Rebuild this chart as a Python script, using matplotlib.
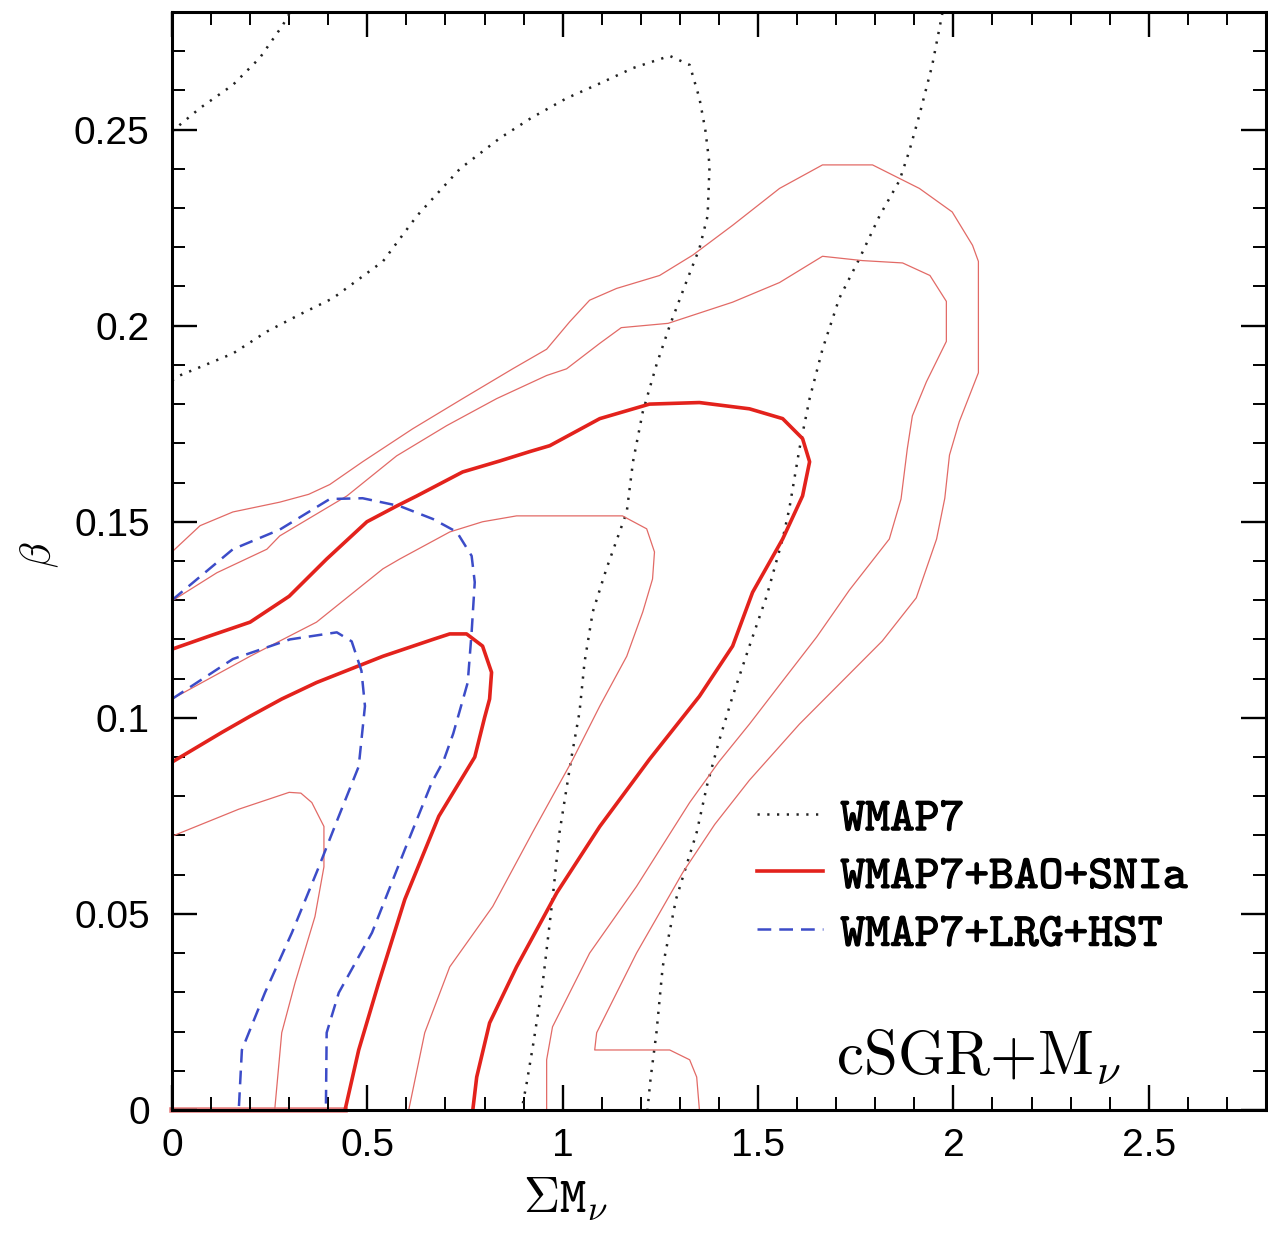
import matplotlib
matplotlib.use("Agg")
import matplotlib.pyplot as plt
import matplotlib.patheffects as pe
from matplotlib.lines import Line2D
from matplotlib.ticker import MultipleLocator, FuncFormatter

plt.rcParams["mathtext.fontset"] = "cm"

# WMAP7 alone (dotted)
wmap7_corner_x = [0.0, 0.020, 0.072, 0.156, 0.225, 0.284, 0.302]
wmap7_corner_y = [0.2495, 0.2512, 0.2555, 0.2614, 0.2683, 0.2767, 0.2798]

wmap7_inner_x = [0.0, 0.02, 0.156, 0.243, 0.33, 0.412, 0.54, 0.627, 0.737, 0.839, 0.92,
                 1.01, 1.10, 1.18, 1.274, 1.325, 1.35, 1.365, 1.376, 1.371, 1.35, 1.317,
                 1.274, 1.24, 1.205, 1.18, 1.164, 1.112, 1.077, 1.056, 1.043, 1.023,
                 0.992, 0.974, 0.949, 0.925, 0.908, 0.895]
wmap7_inner_y = [0.186, 0.1873, 0.1929, 0.1985, 0.203, 0.207, 0.2164, 0.228, 0.240, 0.2478,
                 0.253, 0.258, 0.262, 0.2657, 0.2688, 0.2665, 0.258, 0.250, 0.241, 0.228,
                 0.2197, 0.2113, 0.200, 0.190, 0.178, 0.1653, 0.1525, 0.138, 0.127, 0.1142,
                 0.1014, 0.0902, 0.0708, 0.0537, 0.0324, 0.017, 0.0069, 0.0]

wmap7_outer_x = [1.972, 1.946, 1.913, 1.887, 1.862, 1.811, 1.76, 1.708, 1.665, 1.632, 1.606,
                 1.58, 1.563, 1.522, 1.478, 1.435, 1.40, 1.37, 1.343, 1.29, 1.256, 1.24,
                 1.225, 1.217]
wmap7_outer_y = [0.2798, 0.2665, 0.2537, 0.2445, 0.237, 0.228, 0.2172, 0.207, 0.194, 0.1814,
                 0.1686, 0.1533, 0.1456, 0.131, 0.1183, 0.1055, 0.094, 0.083, 0.0708, 0.0537,
                 0.0365, 0.0197, 0.008, 0.0]

# WMAP7+BAO+SNIa, 1 sigma (thick)
bao_1s_upper_x = [0.0, 0.1, 0.2, 0.3, 0.396, 0.499, 0.575, 0.627, 0.744, 0.839, 0.916, 0.967,
                  1.095, 1.222, 1.35, 1.478, 1.563, 1.614, 1.632, 1.614, 1.563, 1.486, 1.435,
                  1.35, 1.222, 1.095, 0.985, 0.882, 0.813, 0.78, 0.77]
bao_1s_upper_y = [0.1175, 0.121, 0.1244, 0.131, 0.1405, 0.150, 0.154, 0.1566, 0.1627, 0.1655,
                  0.1679, 0.1694, 0.1763, 0.180, 0.1804, 0.1788, 0.1763, 0.1712, 0.1653,
                  0.1566, 0.1456, 0.132, 0.1183, 0.1055, 0.0894, 0.0723, 0.0554, 0.0365,
                  0.0222, 0.0084, 0.0]

bao_1s_lower_x = [0.0, 0.128, 0.2, 0.281, 0.37, 0.54, 0.668, 0.711, 0.754, 0.795, 0.818,
                  0.813, 0.80, 0.775, 0.683, 0.596, 0.529, 0.478, 0.443]
bao_1s_lower_y = [0.0887, 0.0963, 0.1004, 0.1048, 0.109, 0.1157, 0.120, 0.1214, 0.1214,
                  0.1183, 0.1116, 0.1048, 0.100, 0.090, 0.0749, 0.0537, 0.0324, 0.0153, 0.0]

# WMAP7+BAO+SNIa, thin contours
bao_2s_upper_x = [0.0, 0.072, 0.156, 0.276, 0.35, 0.404, 0.488, 0.616, 0.744, 0.872, 0.959,
                  1.018, 1.069, 1.138, 1.248, 1.333, 1.435, 1.555, 1.665, 1.793, 1.913,
                  1.997, 2.049, 2.064, 2.064, 2.015, 1.99, 1.978, 1.957, 1.905, 1.818,
                  1.716, 1.606, 1.478, 1.389, 1.307, 1.189, 1.087, 1.082, 1.274, 1.325,
                  1.343, 1.35]
bao_2s_upper_y = [0.1423, 0.149, 0.1525, 0.155, 0.157, 0.1595, 0.1653, 0.1737, 0.1814, 0.189,
                  0.194, 0.201, 0.2065, 0.2095, 0.2128, 0.218, 0.2256, 0.235, 0.241, 0.241,
                  0.235, 0.229, 0.2205, 0.2164, 0.188, 0.1755, 0.167, 0.156, 0.1456, 0.1306,
                  0.1196, 0.1094, 0.0984, 0.0841, 0.0728, 0.0605, 0.040, 0.0197, 0.0153,
                  0.0153, 0.0128, 0.0084, 0.0]

bao_mid_upper_x = [0.0, 0.115, 0.243, 0.276, 0.448, 0.575, 0.703, 0.831, 0.959, 1.01, 1.095,
                   1.15, 1.27, 1.435, 1.555, 1.665, 1.767, 1.87, 1.94, 1.982, 1.982, 1.931,
                   1.895, 1.882, 1.866, 1.836, 1.734, 1.65, 1.563, 1.478, 1.40, 1.325,
                   1.189, 1.069, 0.974, 0.959, 0.959]
bao_mid_upper_y = [0.1298, 0.137, 0.143, 0.1464, 0.1566, 0.1668, 0.1745, 0.1814, 0.1873,
                   0.189, 0.1955, 0.1995, 0.2006, 0.206, 0.211, 0.2177, 0.2166, 0.216,
                   0.2128, 0.2062, 0.196, 0.1857, 0.177, 0.1686, 0.1558, 0.1456, 0.1326,
                   0.1206, 0.1094, 0.0984, 0.0888, 0.0784, 0.057, 0.040, 0.0212, 0.0128,
                   0.0]

bao_mid_lower_x = [0.0, 0.2, 0.37, 0.54, 0.583, 0.711, 0.795, 0.882, 1.153, 1.215, 1.235,
                   1.23, 1.205, 1.164, 1.095, 1.026, 0.923, 0.821, 0.711, 0.647, 0.606]
bao_mid_lower_y = [0.1048, 0.1157, 0.1244, 0.138, 0.1405, 0.1474, 0.150, 0.1515, 0.1515,
                   0.1482, 0.1423, 0.1354, 0.127, 0.1157, 0.103, 0.0894, 0.0708, 0.0519,
                   0.0365, 0.0197, 0.0]

bao_2s_lower_x = [0.0, 0.171, 0.3, 0.33, 0.358, 0.389, 0.389, 0.366, 0.315, 0.281, 0.263]
bao_2s_lower_y = [0.0698, 0.0767, 0.081, 0.0808, 0.0784, 0.0723, 0.062, 0.0493, 0.0324,
                  0.0197, 0.0]

# WMAP7+LRG+HST (dashed)
lrg_outer_x = [0.0, 0.156, 0.276, 0.404, 0.488, 0.583, 0.668, 0.729, 0.767, 0.775, 0.767,
               0.757, 0.74, 0.72, 0.695, 0.665, 0.596, 0.512, 0.427, 0.396, 0.394]
lrg_outer_y = [0.130, 0.143, 0.148, 0.1558, 0.156, 0.154, 0.1507, 0.1474, 0.1413, 0.1346,
               0.1218, 0.109, 0.103, 0.096, 0.089, 0.0835, 0.0664, 0.0452, 0.0299, 0.0197,
               0.0]

lrg_inner_x = [0.0, 0.156, 0.302, 0.422, 0.46, 0.485, 0.494, 0.478, 0.427, 0.376, 0.307,
               0.238, 0.179, 0.171]
lrg_inner_y = [0.1048, 0.115, 0.120, 0.1218, 0.1195, 0.112, 0.103, 0.0876, 0.0749, 0.062,
               0.0452, 0.0299, 0.0153, 0.0]

labels = ["WMAP7", "WMAP7+BAO+SNIa", "WMAP7+LRG+HST"]

RED = "#e3221c"
THIN_RED = "#e26a66"
BLUE = "#3c4cc8"
DOT = "#222222"

fig = plt.figure(figsize=(12.68, 12.34), dpi=100)
ax = fig.add_axes([0.1356, 0.1005, 0.8628, 0.8898])

dot_kw = dict(color=DOT, lw=1.8, dashes=(0.9, 3.0))
dash_kw = dict(color=BLUE, lw=1.8, dashes=(5.5, 3.2))

for xs, ys in [(wmap7_corner_x, wmap7_corner_y), (wmap7_inner_x, wmap7_inner_y),
               (wmap7_outer_x, wmap7_outer_y)]:
    ax.plot(xs, ys, **dot_kw)

for xs, ys in [(bao_2s_upper_x, bao_2s_upper_y), (bao_mid_upper_x, bao_mid_upper_y),
               (bao_mid_lower_x, bao_mid_lower_y), (bao_2s_lower_x, bao_2s_lower_y)]:
    ax.plot(xs, ys, color=THIN_RED, lw=0.9)

for xs, ys in [(bao_1s_upper_x, bao_1s_upper_y), (bao_1s_lower_x, bao_1s_lower_y)]:
    ax.plot(xs, ys, color=RED, lw=2.6, solid_capstyle="round")

# red edge along the lower boundary
ax.plot([0.0, bao_1s_lower_x[-1]], [0.0, 0.0], color="#e88080", lw=4, clip_on=False, zorder=1.5)

for xs, ys in [(lrg_outer_x, lrg_outer_y), (lrg_inner_x, lrg_inner_y)]:
    ax.plot(xs, ys, **dash_kw)

ax.set_xlim(0, 2.8)
ax.set_ylim(0, 0.28)
ax.xaxis.set_major_locator(MultipleLocator(0.5))
ax.xaxis.set_minor_locator(MultipleLocator(0.1))
ax.yaxis.set_major_locator(MultipleLocator(0.05))
ax.yaxis.set_minor_locator(MultipleLocator(0.01))
fmt = FuncFormatter(lambda v, p: f"{v:g}")
ax.xaxis.set_major_formatter(fmt)
ax.yaxis.set_major_formatter(fmt)

ax.tick_params(which="both", direction="in", top=True, right=True)
ax.tick_params(which="major", length=18, width=1.7, labelsize=28)
ax.tick_params(which="minor", length=9.5, width=1.4)
ax.tick_params(axis="x", pad=13)
ax.tick_params(axis="y", pad=16)
for lab in ax.get_xticklabels() + ax.get_yticklabels():
    lab.set_family("Liberation Sans")
for sp in ax.spines.values():
    sp.set_linewidth(2.2)

handles = [Line2D([], [], **dot_kw),
           Line2D([], [], color=RED, lw=2.6),
           Line2D([], [], **dash_kw)]
leg = ax.legend(handles, labels, loc="upper left", bbox_to_anchor=(0.535, 0.285),
                frameon=False, borderpad=0, borderaxespad=0, handlelength=1.4,
                handletextpad=0.36, labelspacing=0.29,
                prop=dict(family="cmtt10", size=34))
for t in leg.get_texts():
    t.set_path_effects([pe.withStroke(linewidth=0.9, foreground="black")])

ax.text(1.70, 0.009, "cSGR+M$_{\\nu}$", family="cmr10", fontsize=44, va="baseline")

fig.text(565 / 1268, 1 - 1200 / 1234, "$\\Sigma$M$_{\\nu}$", family="cmtt10",
         fontsize=36, ha="center", va="center")
fig.text(40 / 1268, 1 - 555 / 1234, r"$\beta$", fontsize=30, rotation=90,
         ha="center", va="center")

fig.savefig("out.png", dpi=100)
